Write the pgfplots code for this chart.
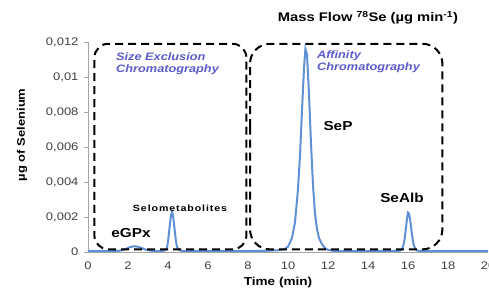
\documentclass[border=0pt]{standalone}
\usepackage{pgfplots}
\pgfplotsset{compat=1.18}
\usepackage{fontspec}
\setmainfont{Liberation Sans}[FakeStretch=1.18]
\newfontfamily\spaced{Liberation Sans}[FakeStretch=1.18,LetterSpace=10]
\definecolor{curve}{RGB}{96,145,212}
\definecolor{annot}{RGB}{92,92,200}
\definecolor{tickc}{RGB}{64,64,64}
\begin{document}
\begin{tikzpicture}
\begin{axis}[
  scale only axis, width=400pt, height=210pt,
  xmin=0, xmax=20, ymin=0, ymax=0.012,
  clip=false,
  axis lines*=left,
  axis line style={draw=black!35, line width=0.6pt},
  xtick={0,2,...,20}, ytick={0,0.002,...,0.012},
  x tick style={draw=none},
  y tick style={draw=black!35, line width=0.6pt},
  tick align=outside, major tick length=4pt,
  scaled y ticks=false,
  ticklabel style={font=\fontsize{11}{13}\selectfont, text=tickc},
  yticklabel style={/pgf/number format/fixed, /pgf/number format/precision=3, /pgf/number format/use comma, xshift=-2pt},
  xticklabel style={yshift=-2pt},
  /pgf/number format/assume math mode=true,
]
\addplot[curve, line width=2pt] coordinates {
(0,0.00005) (0.5,0.00005) (1.0,0.00005) (1.5,0.00006) (1.7,0.0001) (1.9,0.00018) (2.1,0.00028) (2.3,0.00033) (2.5,0.0003) (2.7,0.00022) (2.9,0.00013) (3.1,0.00008) (3.4,0.00005) (3.7,0.00005)
(3.85,0.0001) (3.95,0.00024) (4.0,0.0006) (4.05,0.0011) (4.1,0.00165) (4.15,0.0021) (4.2,0.00228) (4.25,0.0021) (4.3,0.0016) (4.35,0.0011) (4.4,0.0006) (4.45,0.0003) (4.55,0.00012) (4.7,0.00006)
(5,0.00005) (6,0.00005) (7,0.00005) (8,0.00005) (9,0.00007) (9.5,0.0001) (9.8,0.00015) (10.0,0.0003) (10.2,0.0008) (10.35,0.0017) (10.5,0.0036) (10.6,0.0055) (10.7,0.0081) (10.8,0.0105) (10.87,0.0116) (10.95,0.0113) (11.05,0.009) (11.15,0.0062) (11.25,0.0038) (11.35,0.0022) (11.45,0.0013) (11.55,0.0008) (11.7,0.00045) (11.85,0.00022) (12.0,0.00012) (12.3,0.00006)
(13,0.00005) (15,0.00005) (15.6,0.00007) (15.7,0.00017) (15.8,0.0005) (15.85,0.0009) (15.9,0.0014) (15.95,0.0019) (16.0,0.00225) (16.05,0.0022) (16.1,0.0019) (16.15,0.00145) (16.2,0.001) (16.25,0.0006) (16.3,0.00035) (16.4,0.00013) (16.5,0.00006) (17,0.00005) (20,0.00005)
};
% dashed boxes (annotations)
\draw[black, line width=2pt, dash pattern=on 8pt off 5pt, rounded corners=14pt]
  (axis cs:0.32,0.0060) -- (axis cs:0.32,0.0119) -- (axis cs:7.92,0.0119) -- (axis cs:7.92,0.00015) -- (axis cs:0.32,0.00015) -- cycle;
\draw[black, line width=2pt, dash pattern=on 8pt off 5pt, rounded corners=20pt]
  (axis cs:8.1,0.006) -- (axis cs:8.1,0.0119) -- (axis cs:17.72,0.0119) -- (axis cs:17.72,0.00015) -- (axis cs:8.1,0.00015) -- cycle;
% texts
\node[font=\bfseries\fontsize{12.5}{14}\selectfont] at (axis cs:14,0.01337) {Mass Flow \textsuperscript{78}Se (µg min\textsuperscript{-1})};
\node[font=\bfseries\fontsize{11}{13}\selectfont, rotate=90] at (axis cs:-3.3,0.0067) {µg of Selenium};
\node[font=\bfseries\fontsize{11.5}{13}\selectfont] at (axis cs:9.5,-0.00172) {Time (min)};
\node[anchor=north west, align=left, inner sep=0pt, text=annot, font=\bfseries\itshape\fontsize{10.8}{12}\selectfont] at (axis cs:1.4,0.0114) {Size Exclusion\\Chromatography};
\node[anchor=north west, align=left, inner sep=0pt, text=annot, font=\bfseries\itshape\fontsize{10.8}{12}\selectfont] at (axis cs:11.45,0.0115) {Affinity\\Chromatography};
\node[font=\bfseries\fontsize{13}{15}\selectfont] at (axis cs:12.5,0.0072) {SeP};
\node[font=\spaced\bfseries\fontsize{9}{10}\selectfont] at (axis cs:4.6,0.0025) {Selometabolites};
\node[font=\bfseries\fontsize{13}{15}\selectfont] at (axis cs:2.15,0.00108) {eGPx};
\node[font=\bfseries\fontsize{13}{15}\selectfont] at (axis cs:15.7,0.0031) {SeAlb};
\end{axis}
\pgfresetboundingbox
\path[use as bounding box] (-88pt,-35pt) rectangle (401pt,252pt);
\end{tikzpicture}
\end{document}
